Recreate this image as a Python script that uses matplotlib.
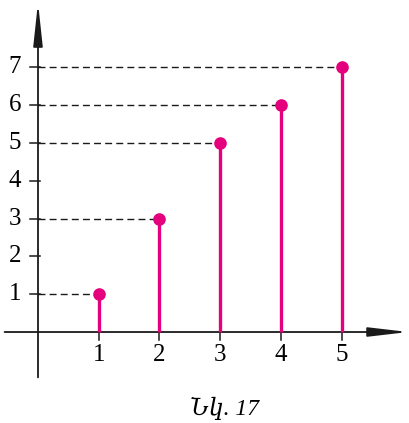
import numpy as np
from matplotlib import pyplot as plt

x = [1, 2, 3, 4, 5]
y = [1, 3, 5, 6, 7]
ylabels = [1, 2, 3, 4, 5, 6, 7]
caption = "Նկ. 17"

pink = "#e5007d"
serif = ['Liberation Serif', 'DejaVu Serif']

fig = plt.figure(figsize=(4.09, 4.23), dpi=100)
ax = fig.add_axes([0, 0, 1, 1])
ax.set_xlim(-0.626, 6.112)
ax.set_ylim(-2.407, 8.783)
ax.axis('off')

# axes with arrows
ax.annotate('', xy=(6.1, 0), xytext=(-0.55, 0),
            arrowprops=dict(arrowstyle='-|>,head_length=2.4,head_width=0.28', color='#1a1a1a', lw=1.3,
                            shrinkA=0, shrinkB=0))
ax.annotate('', xy=(0, 8.72), xytext=(0, -1.2),
            arrowprops=dict(arrowstyle='-|>,head_length=2.6,head_width=0.28', color='#1a1a1a', lw=1.3,
                            shrinkA=0, shrinkB=0))

# ticks
for v in ylabels:
    ax.plot([-0.13, 0.03], [v, v], color='#1a1a1a', lw=1.1)
    ax.text(-0.38, v, str(v), ha='center', va='center', fontsize=18, family=serif)
for v in x:
    ax.plot([v, v], [0, -0.2], color='#1a1a1a', lw=1.1)
    ax.text(v, -0.62, str(v), ha='center', va='center', fontsize=18, family=serif)

# dashed guides
for xi, yi in zip(x, y):
    ax.plot([0, xi], [yi, yi], color='#1a1a1a', lw=1.0, ls=(0, (5, 3)))

# stems and dots
ax.vlines(x, 0, y, color=pink, lw=2.4, zorder=3)
ax.scatter(x, y, s=65, color=pink, zorder=4)

ax.text(3.08, -2.02, caption, ha='center', va='center', fontsize=17, style='italic', family=serif)

plt.savefig("out.png", dpi=100)
